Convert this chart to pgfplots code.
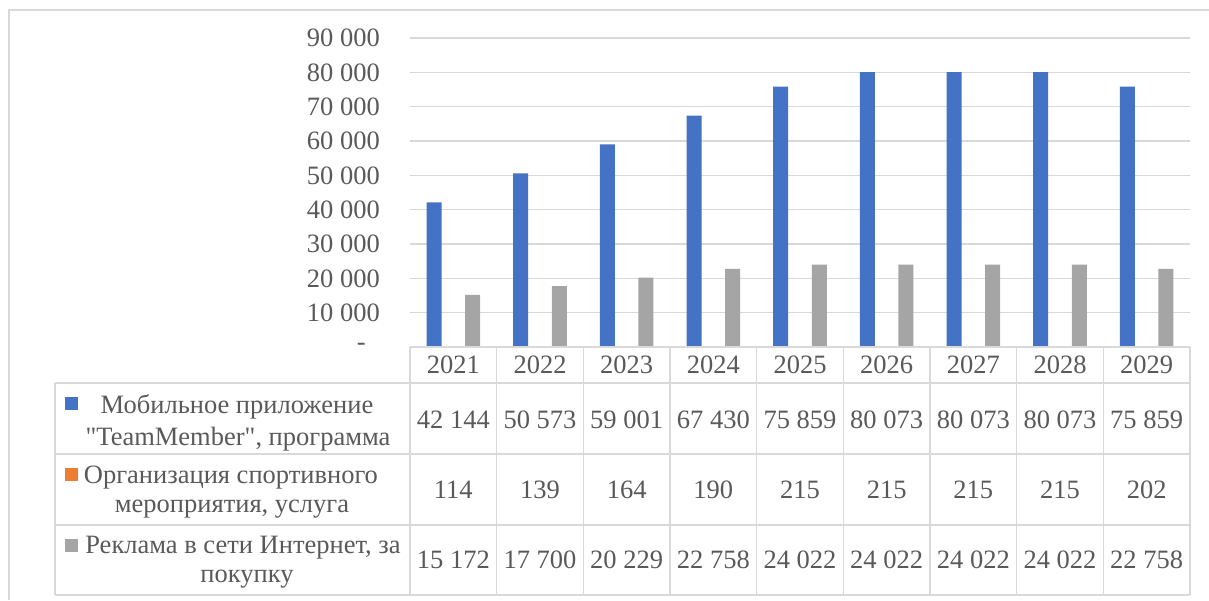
\documentclass[border=0pt]{standalone}
\usepackage{fontspec}
\setmainfont{Liberation Serif}
\newfontfamily\qf{Liberation Serif}
\usepackage{pgfplots}
\pgfplotsset{compat=1.18}
\definecolor{cblue}{HTML}{4472C4}
\definecolor{corange}{HTML}{ED7D31}
\definecolor{cgray}{HTML}{A5A5A5}
\definecolor{ctext}{HTML}{595959}
\definecolor{cgrid}{HTML}{D9D9D9}
\newcommand\f{\fontsize{26.5}{30}\selectfont}
\begin{document}
\begin{tikzpicture}
\path[use as bounding box] (0pt,0pt) rectangle (1209pt,-600pt);
\draw[cgrid, line width=1.3pt] (9pt,-600pt) -- (9pt,-10pt) -- (1209pt,-10pt);
\begin{axis}[at={(410pt,-347pt)}, anchor=south west, scale only axis,
  width=780pt, height=309pt, xmin=-0.5, xmax=8.5, ymin=0, ymax=90000,
  axis line style={draw=none}, xtick=\empty, major tick length=0pt,
  scaled y ticks=false,
  ytick={0,10000,20000,30000,40000,50000,60000,70000,80000,90000},
  yticklabels={\makebox[23pt][l]{-},10 000,20 000,30 000,40 000,50 000,60 000,70 000,80 000,90 000},
  yticklabel style={font=\f, text=ctext, anchor=east, inner sep=0pt, xshift=-30pt},
  ymajorgrids, grid style={cgrid, line width=1.3pt},
  ybar=4.3pt, bar width=15pt, clip=false]
\addplot[fill=cblue, draw=none] coordinates {(0,42144) (1,50573) (2,59001) (3,67430) (4,75859) (5,80073) (6,80073) (7,80073) (8,75859)};
\addplot[fill=corange, draw=none] coordinates {(0,114) (1,139) (2,164) (3,190) (4,215) (5,215) (6,215) (7,215) (8,202)};
\addplot[fill=cgray, draw=none] coordinates {(0,15172) (1,17700) (2,20229) (3,22758) (4,24022) (5,24022) (6,24022) (7,24022) (8,22758)};
\end{axis}
\begin{scope}[x=1pt, y=-1pt, every node/.style={font=\f, text=ctext, inner sep=0pt, anchor=base}]
  \draw[cgrid, line width=1.3pt] (410,347) -- (1190,347);
  \foreach \yy in {383,454,525,595} \draw[cgrid, line width=1.3pt] (55,\yy) -- (1190,\yy);
  \draw[cgrid, line width=1.3pt] (55,383) -- (55,595);
  \foreach \k in {0,...,9} \draw[cgrid, line width=1.3pt] ({410+86.667*\k},347) -- ({410+86.667*\k},595);
  \foreach \yr [count=\i from 0] in {2021,2022,2023,2024,2025,2026,2027,2028,2029}
    \node at ({410+86.667*(\i+0.5)},373) {\yr};
  \foreach \v [count=\i from 0] in {42 144,50 573,59 001,67 430,75 859,80 073,80 073,80 073,75 859}
    \node at ({410+86.667*(\i+0.5)},428) {\v};
  \foreach \v [count=\i from 0] in {114,139,164,190,215,215,215,215,202}
    \node at ({410+86.667*(\i+0.5)},498) {\v};
  \foreach \v [count=\i from 0] in {15 172,17 700,20 229,22 758,24 022,24 022,24 022,24 022,22 758}
    \node at ({410+86.667*(\i+0.5)},568) {\v};
  \fill[cblue] (65,397) rectangle (78,410);
  \fill[corange] (65,468) rectangle (78,481);
  \fill[cgray] (65,539) rectangle (78,552);
  \node at (237,413) {Мобильное приложение};
  \node at (238,445) {{\qf"}TeamMember{\qf"}, программа};
  \node at (231,483) {Организация спортивного};
  \node at (232,512) {мероприятия, услуга};
  \node at (243,553) {Реклама в сети Интернет, за};
  \node at (247,582) {покупку};
\end{scope}
\end{tikzpicture}
\end{document}
